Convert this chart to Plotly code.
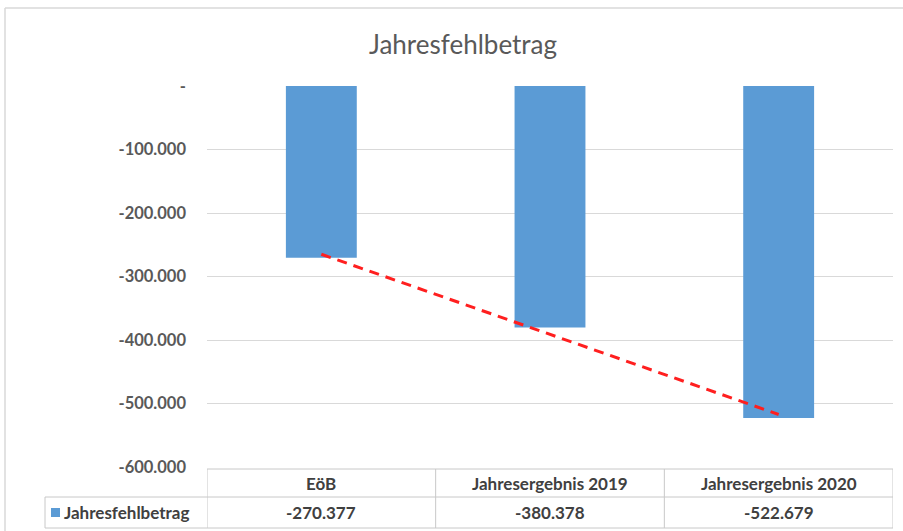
import numpy as np
import plotly.graph_objects as go

# data
categories = ["EöB", "Jahresergebnis 2019", "Jahresergebnis 2020"]
values = [-270377, -380378, -522679]
value_labels = ["-270.377", "-380.378", "-522.679"]
series_name = "Jahresfehlbetrag"
tick_vals = [0, -100000, -200000, -300000, -400000, -500000, -600000]
tick_text = ["-", "-100.000", "-200.000", "-300.000", "-400.000", "-500.000", "-600.000"]

BAR = "#5B9BD5"
GRID = "#d9d9d9"
FONT = "Lato"

# linear trendline like Excel
xs = np.arange(len(values))
slope, icpt = np.polyfit(xs, values, 1)
trend = slope * xs + icpt

fig = go.Figure()
fig.add_trace(
    go.Bar(
        x=list(xs),
        y=values,
        width=0.31,
        marker=dict(color=BAR, line=dict(width=0)),
        showlegend=False,
    )
)
fig.add_trace(
    go.Scatter(
        x=list(xs),
        y=trend,
        mode="lines",
        line=dict(color="#ff1f1f", width=3, dash="10px,7px"),
        showlegend=False,
    )
)

# plot area in px: x 207..893, y 86..467
W, H = 903, 531
L, R, T, B = 207, 893, 86, 467


def py(pix):
    return (B - pix) / (B - T)


def px(pix):
    return (pix - L) / (R - L)


shapes = []
# outer chart frame (top + left)
shapes.append(dict(type="line", xref="paper", yref="paper", x0=px(5), x1=px(903), y0=py(8), y1=py(8),
                   line=dict(color="#d9d9d9", width=1.5)))
shapes.append(dict(type="line", xref="paper", yref="paper", x0=px(5), x1=px(5), y0=py(8), y1=py(531),
                   line=dict(color="#d9d9d9", width=1.5)))

# data table
tc = "#c8c8c8"
y_top, y_mid, y_bot = py(469), py(497), py(528)
shapes.append(dict(type="line", xref="x", yref="paper", x0=-0.5, x1=2.5, y0=y_top, y1=y_top, line=dict(color=tc, width=1)))
shapes.append(dict(type="line", xref="paper", yref="paper", x0=px(45), x1=1, y0=y_mid, y1=y_mid, line=dict(color=tc, width=1)))
shapes.append(dict(type="line", xref="paper", yref="paper", x0=px(45), x1=1, y0=y_bot, y1=y_bot, line=dict(color=tc, width=1)))
shapes.append(dict(type="line", xref="paper", yref="paper", x0=px(45), x1=px(45), y0=y_mid, y1=y_bot, line=dict(color=tc, width=1)))
for xv in [-0.5, 0.5, 1.5, 2.5]:
    shapes.append(dict(type="line", xref="x", yref="paper", x0=xv, x1=xv, y0=y_top, y1=y_bot, line=dict(color=tc, width=1)))
# legend key in table
shapes.append(dict(type="rect", xref="paper", yref="paper", x0=px(51), x1=px(60), y0=py(517), y1=py(508),
                   fillcolor=BAR, line=dict(width=0)))

tfont = dict(family=FONT, size=17, color="#404040", weight="bold")
annotations = []
for i, (c, v) in enumerate(zip(categories, value_labels)):
    annotations.append(dict(x=i, y=(y_top + y_mid) / 2, xref="x", yref="paper", text=c, showarrow=False,
                            xanchor="center", yanchor="middle", font=tfont))
    annotations.append(dict(x=i, y=(y_mid + y_bot) / 2, xref="x", yref="paper", text=v, showarrow=False,
                            xanchor="center", yanchor="middle", font=tfont))
annotations.append(dict(x=px(62), y=(y_mid + y_bot) / 2, xref="paper", yref="paper", xanchor="left",
                        yanchor="middle", text=series_name, showarrow=False, font=tfont))

fig.update_layout(
    width=W,
    height=H,
    margin=dict(l=L, r=W - R, t=T, b=H - B),
    paper_bgcolor="white",
    plot_bgcolor="white",
    title=dict(text="Jahresfehlbetrag", x=463 / W, xanchor="center", y=1 - 45 / H, yanchor="middle",
               font=dict(family=FONT, size=26, color="#595959")),
    shapes=shapes,
    annotations=annotations,
)
fig.update_xaxes(range=[-0.5, 2.5], showticklabels=False, showgrid=False, zeroline=False, showline=False)
fig.update_yaxes(
    range=[-600000, 0],
    tickvals=tick_vals,
    ticktext=tick_text,
    showgrid=True,
    gridcolor=GRID,
    gridwidth=1,
    zeroline=False,
    ticks="",
    ticklabelstandoff=20,
    tickfont=dict(family=FONT, size=16.5, color="#595959", weight="bold"),
)

fig.write_html(
    "out.html",
    config={"displayModeBar": False},
    post_script="document.body.style.margin='0';",
)
